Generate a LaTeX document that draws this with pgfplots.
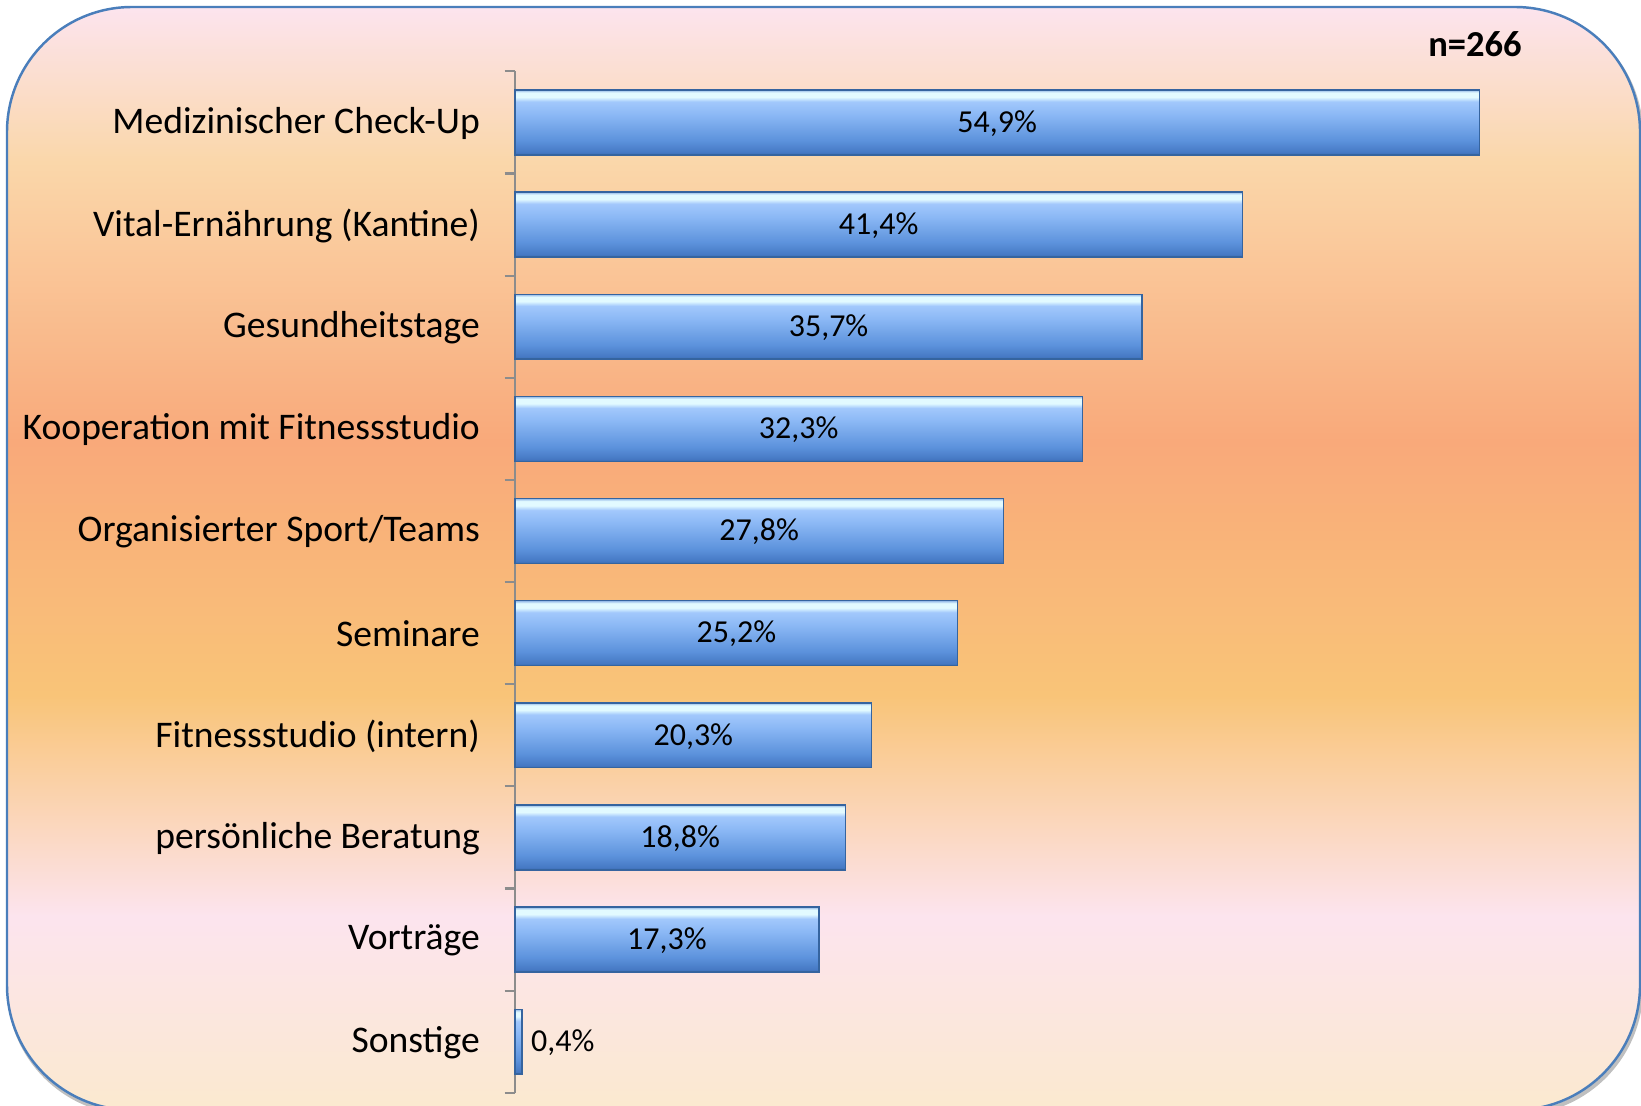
\documentclass[border=0pt]{standalone}
\usepackage{fontspec}
\setmainfont{Carlito}
\usepackage{pgfplots}
\pgfplotsset{compat=1.18}

% background colours, top to bottom
\definecolor{bgtop}{HTML}{FCE4EE}
\definecolor{bgpeach}{HTML}{FAD7AA}
\definecolor{bgsalmon}{HTML}{F9A97A}
\definecolor{bgyell}{HTML}{F9C478}
\definecolor{bgpink}{HTML}{FCE4EE}
\definecolor{bgcream}{HTML}{FBE9CF}
\definecolor{boxblue}{HTML}{4A7EBB}
% bar colours
\definecolor{barbot}{HTML}{3A6CB0}
\definecolor{barlow}{HTML}{4679C4}
\definecolor{barmid}{HTML}{5C92DC}
\definecolor{barup}{HTML}{8BB8F5}
\definecolor{barlight}{HTML}{A2C8FC}
\definecolor{barhi}{HTML}{E2FAFF}
\definecolor{baredge}{HTML}{8FB5E6}
\definecolor{bardark}{HTML}{35649F}

\pgfdeclareverticalshading{bgshade}{100bp}{color(0bp)=(bgcream); color(25bp)=(bgcream);
  color(33.8bp)=(bgpink); color(43.8bp)=(bgyell); color(55.3bp)=(bgsalmon);
  color(68bp)=(bgpeach); color(75bp)=(bgtop); color(100bp)=(bgtop)}
\pgfdeclareverticalshading{barshade}{100bp}{color(0bp)=(barbot); color(25bp)=(barbot);
  color(27bp)=(barlow); color(36bp)=(barmid); color(56bp)=(barup); color(66bp)=(barlight);
  color(69.5bp)=(barhi); color(73bp)=(barhi); color(75bp)=(baredge); color(100bp)=(baredge)}

\pgfplotsset{barsty/.style={xbar, bar width=6.49mm, bar shift=0pt, draw=bardark,
  line width=0.4pt, shading=barshade}}

\begin{document}
\begin{tikzpicture}[x=1mm,y=1mm]
\useasboundingbox (0,0) rectangle (164.1,110.5);
\begin{scope}
  \clip (0,0) rectangle (164.1,110.5);
  \draw[black!25, line width=1.2pt, rounded corners=12.5mm] (0.9,-0.8) rectangle (164.1,109.5);
  \shadedraw[shading=bgshade, draw=boxblue, line width=0.7pt, rounded corners=12.5mm]
    (0.7,-0.5) rectangle (164.0,109.8);
\end{scope}

\begin{axis}[
    at={(51.5mm,1.22mm)}, anchor=south west,
    scale only axis, width=105.4mm, height=102.15mm,
    xmin=0, xmax=60, ymin=0.5, ymax=10.5,
    axis x line=none, axis y line*=left,
    axis line style={black!45, line width=0.6pt},
    ytick={1,...,10},
    yticklabels={Sonstige, Vorträge, persönliche Beratung, Fitnessstudio (intern),
      Seminare, Organisierter Sport/Teams, Kooperation mit Fitnessstudio,
      Gesundheitstage, Vital-Ernährung (Kantine), Medizinischer Check-Up},
    major tick length=0pt,
    minor ytick={0.5,1.5,...,10.5},
    minor tick length=1.05mm, tick align=outside,
    minor y tick style={black!45, line width=0.6pt},
    yticklabel style={anchor=east, inner sep=0pt, xshift=-3.45mm, yshift=-0.1mm,
      font=\fontsize{10.7}{12}\selectfont},
    clip=false
]
\addplot[barsty] coordinates {(54.9,10)};
\addplot[barsty] coordinates {(41.4,9)};
\addplot[barsty] coordinates {(35.7,8)};
\addplot[barsty] coordinates {(32.3,7)};
\addplot[barsty] coordinates {(27.8,6)};
\addplot[barsty] coordinates {(25.2,5)};
\addplot[barsty] coordinates {(20.3,4)};
\addplot[barsty] coordinates {(18.8,3)};
\addplot[barsty] coordinates {(17.3,2)};
\addplot[barsty] coordinates {(0.4,1)};
\addplot[only marks, mark=none, nodes near coords, point meta=explicit symbolic,
  every node near coord/.append style={anchor=center, inner sep=0pt, yshift=-0.1mm,
    font=\fontsize{9.1}{10}\selectfont}] coordinates {
  (27.45,10) [54,9\%] (20.7,9) [41,4\%] (17.85,8) [35,7\%] (16.15,7) [32,3\%]
  (13.9,6) [27,8\%] (12.6,5) [25,2\%] (10.15,4) [20,3\%] (9.4,3) [18,8\%]
  (8.65,2) [17,3\%]
};
\addplot[only marks, mark=none, nodes near coords, point meta=explicit symbolic,
  every node near coord/.append style={anchor=west, inner sep=0pt, xshift=0.85mm,
    yshift=-0.1mm, font=\fontsize{9.1}{10}\selectfont}] coordinates {
  (0.4,1) [0,4\%]
};
\end{axis}

\node[font=\bfseries\fontsize{10.4}{12}\selectfont, inner sep=0pt] at (147.5,106.1) {n=266};
\end{tikzpicture}
\end{document}
